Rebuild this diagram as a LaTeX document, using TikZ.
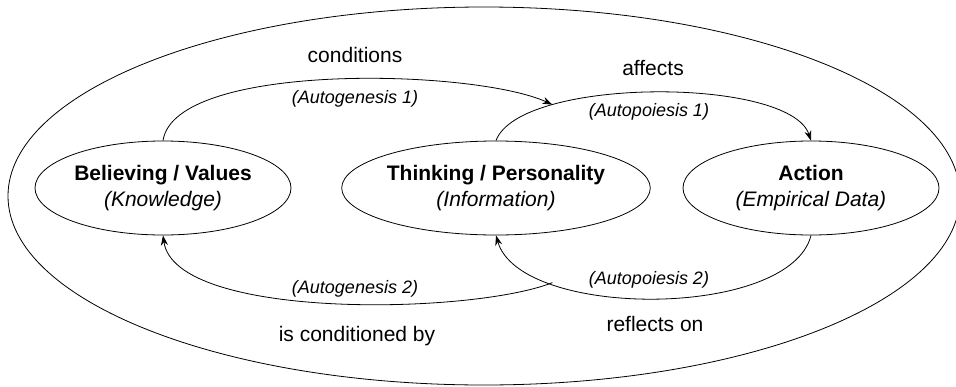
\documentclass[tikz,border=0pt]{standalone}
\usepackage{fontspec}
\setmainfont{Liberation Sans}
\usetikzlibrary{shapes.geometric,arrows.meta}
\tikzset{
  stage/.style={draw, ellipse, line width=0.8pt, minimum width=256pt, minimum height=94pt,
    inner sep=0pt, align=center, font=\fontsize{21}{26}\selectfont},
  flow/.style={line width=0.8pt, -{Stealth[length=10pt,width=7pt]}},
  verb/.style={anchor=base, font=\fontsize{21}{25}\selectfont},
  loopname/.style={anchor=base, font=\fontsize{18}{21}\selectfont\itshape}
}
\begin{document}
\begin{tikzpicture}[x=1pt,y=-1pt]
      \useasboundingbox (0,0) rectangle (956,386);
      \draw[line width=0.8pt] (484,196) ellipse [x radius=476, y radius=189];
      \node[stage] (belief) at (163,188) {\textbf{Believing / Values}\\\textit{(Knowledge)}};
      \node[stage] (think) at (496,188) {\textbf{Thinking / Personality}\\\textit{(Information)}};
      \node[stage] (action) at (811,188) {\textbf{Action}\\\textit{(Empirical Data)}};
      \draw[flow] (think.north) .. controls +(24,-64) and +(-21,-64) .. (action.north) coordinate[pos=0.25] (m1);
      \draw[flow] (action.south) .. controls +(-21,84) and +(24,84) .. (think.south) coordinate[pos=0.75] (m2);
      \draw[flow] (belief.north) .. controls +(12,-79) and +(-79,-36) .. (m1);
      \draw[flow] (m2) .. controls +(-81,32) and +(12,85) .. (belief.south);
      \node[verb] (conditions) at (355,62) {conditions};
      \node[loopname] (autogen1) at (355,103) {(Autogenesis 1)};
      \node[verb] (affects) at (653,75) {affects};
      \node[loopname] (autopo1) at (649,116) {(Autopoiesis 1)};
      \node[loopname] (autogen2) at (355,293) {(Autogenesis 2)};
      \node[verb] (conditioned) at (357,341) {is conditioned by};
      \node[loopname] (autopo2) at (649,284) {(Autopoiesis 2)};
      \node[verb] (reflects) at (655,331) {reflects on};
    \end{tikzpicture}
\end{document}
